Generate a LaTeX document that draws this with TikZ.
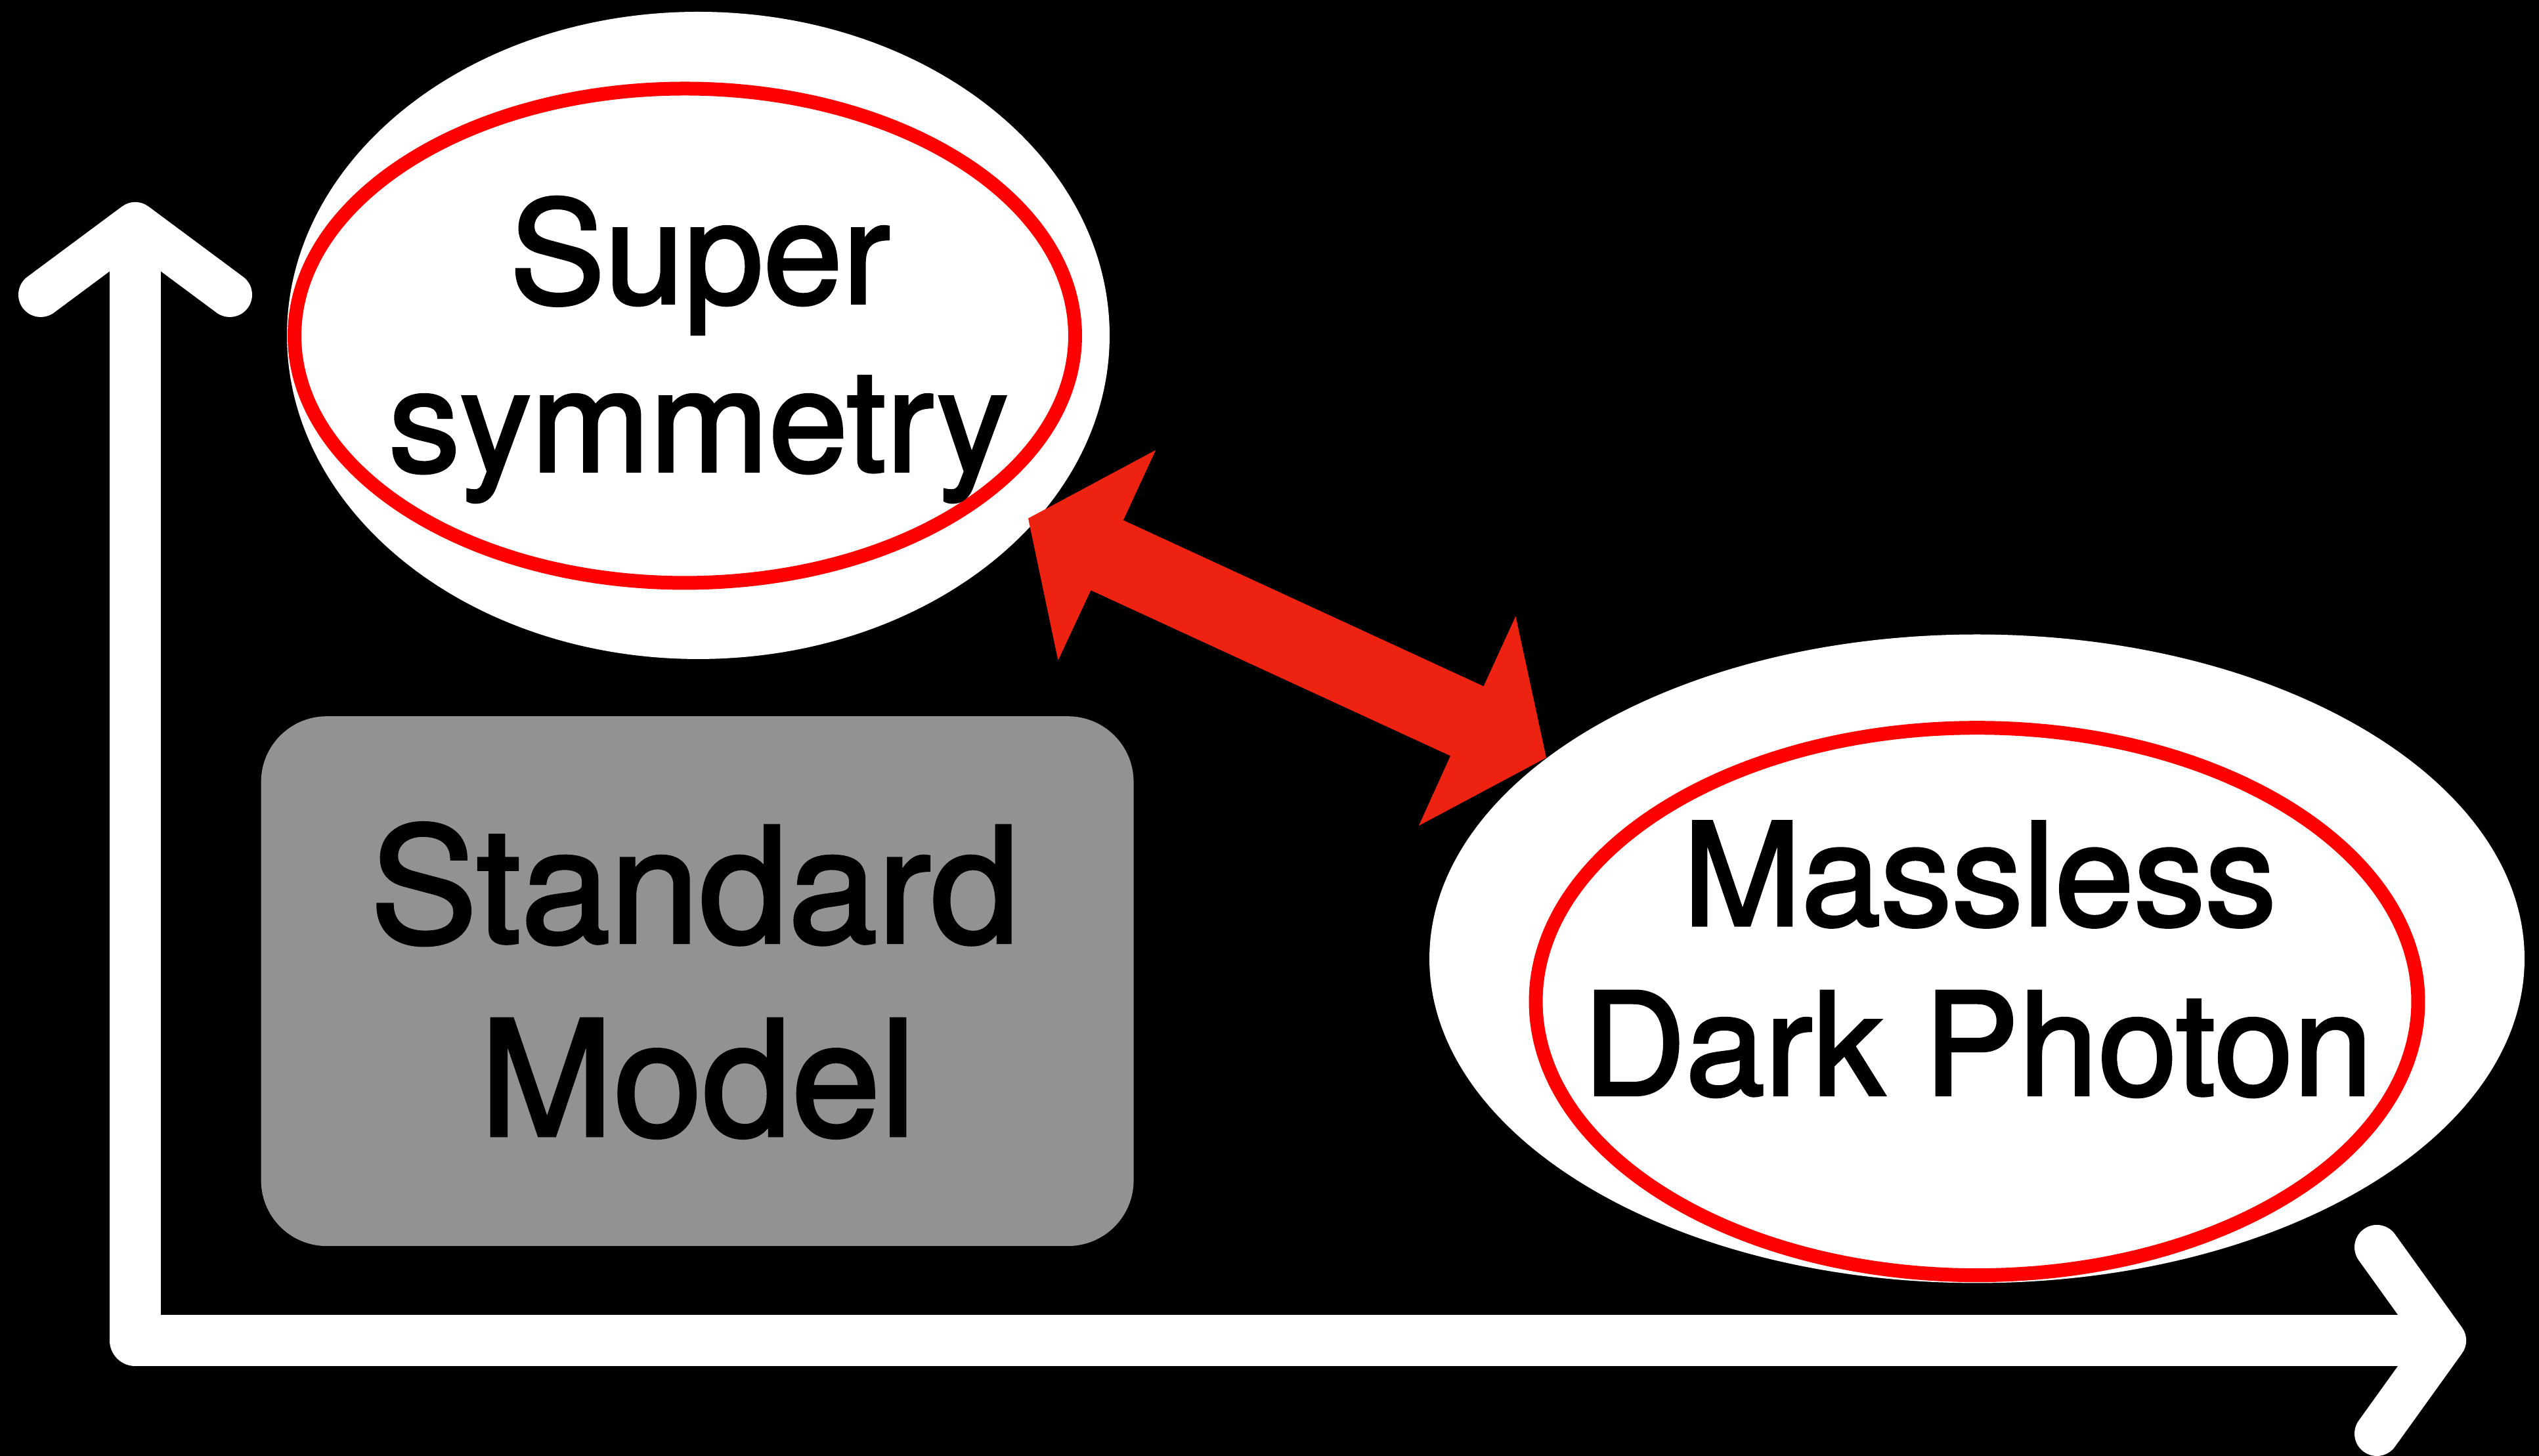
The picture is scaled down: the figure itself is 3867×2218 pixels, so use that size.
\documentclass[tikz,border=0pt]{standalone}
\usepackage{fontspec}
\setmainfont{TeX Gyre Heros}[FakeBold=2]
\usetikzlibrary{shapes.geometric}
\definecolor{arrowred}{RGB}{238,34,17}
\definecolor{boxgray}{RGB}{146,146,146}
\tikzset{
  whiteell/.style={ellipse, fill=white, inner sep=0pt, outer sep=0pt},
  redell/.style={ellipse, draw=red, line width=2.1pt, inner sep=0pt, outer sep=0pt},
  axisbar/.style={draw=white, line width=7.8pt, line join=round},
  chevron/.style={draw=white, line width=6.8pt, line join=round, line cap=round},
  lbl/.style={inner sep=0pt, anchor=base, text=black},
}
\begin{document}
\begin{tikzpicture}[x=0.1pt, y=-0.1pt]
  \fill[black] (0,0) rectangle (3867,2218);
  \useasboundingbox (0,0) rectangle (3867,2218);

  % axes
  \coordinate (ytop) at (206,365);
  \coordinate (orig) at (206,2042);
  \coordinate (xend) at (3700,2042);
  \draw[axisbar] (ytop) -- (orig) -- (xend);
  \coordinate (tl) at (62,449);
  \coordinate (ta) at (206,342);
  \coordinate (tr) at (350,449);
  \draw[chevron] (tl) -- (ta) -- (tr);
  \coordinate (ru) at (3620,1900);
  \coordinate (ra) at (3722,2042);
  \coordinate (rd) at (3620,2184);
  \draw[chevron] (ru) -- (ra) -- (rd);

  % Supersymmetry
  \node[whiteell, minimum width=125.3pt, minimum height=98.6pt] (susyW) at (1063.5,511) {};
  \node[redell, minimum width=118.9pt, minimum height=75.3pt] (susyR) at (1043,511.5) {};

  % Massless dark photon
  \node[whiteell, minimum width=166.8pt, minimum height=98.8pt] (mdpW) at (3011,1460.5) {};
  \node[redell, minimum width=134.4pt, minimum height=83.4pt] (mdpR) at (3011,1525.7) {};

  % Standard Model box
  \node[rectangle, fill=boxgray, rounded corners=10pt, minimum width=132.9pt, minimum height=80.7pt, inner sep=0pt] (sm) at (1062.1,1494.7) {};

  % double arrow
  \fill[arrowred] (1566,789.7) -- (1760.2,685.7) -- (1710.8,792.5) -- (2259.6,1045.5)
    -- (2308.4,938.8) -- (2355,1154.3) -- (2160.9,1257.9) -- (2209.1,1151.5)
    -- (1661.4,899.2) -- (1611.5,1006) -- cycle;

  % labels
  \node[lbl, font=\fontsize{21.7pt}{26pt}\selectfont] (t1) at (1066,462) {Super};
  \node[lbl, font=\fontsize{21.7pt}{26pt}\selectfont] (t2) at (1064,718) {symmetry};
  \node[lbl, font=\fontsize{21.7pt}{26pt}\selectfont] (t3) at (3015,1409.5) {Massless};
  \node[lbl, font=\fontsize{21.7pt}{26pt}\selectfont] (t4) at (3012,1668) {Dark Photon};
  \node[lbl, font=\fontsize{24.4pt}{29pt}\selectfont] (t5) at (1058.5,1435.7) {Standard};
  \node[lbl, font=\fontsize{24.4pt}{29pt}\selectfont] (t6) at (1063,1730) {Model};
\end{tikzpicture}
\end{document}
